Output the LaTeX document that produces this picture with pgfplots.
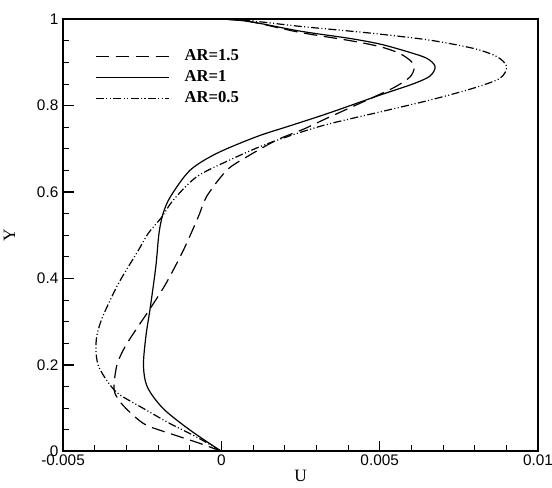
\documentclass[border=0pt]{standalone}
\usepackage{pgfplots}
\pgfplotsset{compat=1.18}
\usepackage{fontspec}
\setmainfont{Liberation Serif}
\newfontfamily\arial{Liberation Sans}

\begin{document}
\begin{tikzpicture}
\begin{axis}[
  scale only axis, width=356pt, height=324pt,
  xmin=-0.005, xmax=0.01, ymin=0, ymax=1,
  scaled x ticks=false, scaled y ticks=false,
  xtick={-0.005,0,0.005,0.01}, xticklabels={-0.005,0,0.005,0.01},
  ytick={0,0.2,0.4,0.6,0.8,1}, yticklabels={0,0.2,0.4,0.6,0.8,1},
  minor x tick num=4, minor y tick num=3,
  tick pos=left, tick align=inside,
  major tick length=8pt, minor tick length=4.5pt,
  every major tick/.style={line width=1.2pt, black},
  every minor tick/.style={line width=0.5pt, black},
  axis line style={line width=1.5pt},
  /pgf/number format/assume math mode=true,
  tick label style={font=\arial\fontsize{11.5}{13}\selectfont},
  xticklabel style={yshift=1pt},
  xlabel={U}, ylabel={Y},
  label style={font=\fontsize{13}{15}\selectfont},
  xlabel style={at={(axis description cs:0.5,-0.058)}, anchor=center, inner sep=0pt},
  ylabel style={at={(axis description cs:-0.113,0.5)}, anchor=center, inner sep=0pt},
  legend image code/.code={\draw[#1] (0pt,0pt) -- (55pt,0pt); \path (66pt,0pt);},
  legend style={draw=none, fill=none, at={(axis description cs:0.0674,0.93)}, anchor=north west,
    font=\bfseries\fontsize{12.5}{14}\selectfont, row sep=4.6pt, inner sep=0pt,
    nodes={inner sep=0pt, text height=8.5pt, text depth=2.5pt, anchor=west}},
  legend cell align=left,
]
\addplot[black, line width=0.9pt, dash pattern=on 10pt off 5pt, smooth, tension=0.5] coordinates {
(0,0) (-0.00067,0.018) (-0.00162,0.041) (-0.00236,0.060) (-0.00278,0.083) (-0.00315,0.110)
(-0.00336,0.134) (-0.00339,0.155) (-0.0033,0.199) (-0.0031,0.234) (-0.00280,0.270)
(-0.00225,0.330) (-0.00175,0.388) (-0.0012,0.465) (-0.00073,0.542) (-0.00046,0.590)
(0.00017,0.650) (0.0008,0.681) (0.00175,0.720) (0.00259,0.745) (0.00338,0.772)
(0.00501,0.826) (0.00554,0.845) (0.00596,0.866) (0.00609,0.886) (0.00601,0.901)
(0.00564,0.920) (0.00501,0.936) (0.00406,0.950) (0.00248,0.969) (0.0009,0.994) (0,1)
};
\addlegendentry{AR=1.5}
\addplot[black, line width=0.9pt, smooth, tension=0.5] coordinates {
(0,0) (-0.00099,0.049) (-0.00184,0.099) (-0.00234,0.149) (-0.00246,0.199) (-0.00238,0.268)
(-0.00225,0.330) (-0.00207,0.427) (-0.00197,0.504) (-0.00184,0.550) (-0.00160,0.590)
(-0.00099,0.650) (-0.00015,0.689) (0.00112,0.728) (0.00217,0.753) (0.00338,0.782)
(0.00501,0.824) (0.00606,0.850) (0.00659,0.868) (0.00675,0.890) (0.00649,0.909)
(0.00585,0.925) (0.00501,0.942) (0.00406,0.955) (0.00248,0.972) (0.0009,0.994) (0,1)
};
\addlegendentry{AR=1}
\addplot[black, line width=0.9pt, dash pattern=on 6pt off 1.8pt on 0.8pt off 1.8pt on 0.8pt off 1.8pt, smooth, tension=0.5] coordinates {
(0,0) (-0.00078,0.033) (-0.00162,0.064) (-0.00246,0.099) (-0.00325,0.133) (-0.00362,0.164)
(-0.00389,0.199) (-0.00396,0.234) (-0.00393,0.268) (-0.00375,0.311) (-0.00325,0.388)
(-0.00262,0.465) (-0.00231,0.504) (-0.00188,0.542) (-0.00152,0.581) (-0.00078,0.635)
(0.00027,0.674) (0.00133,0.708) (0.00238,0.735) (0.00338,0.757) (0.00501,0.785)
(0.00659,0.8125) (0.00796,0.840) (0.0088,0.863) (0.00901,0.890) (0.0087,0.913)
(0.00796,0.932) (0.00659,0.951) (0.00501,0.965) (0.00406,0.972) (0.00248,0.983) (0.0009,0.996) (0,1)
};
\addlegendentry{AR=0.5}
\end{axis}
\pgfresetboundingbox
\useasboundingbox ([shift={(-47.25pt,-27pt)}]current axis.south west) rectangle ([shift={(10.5pt,14.25pt)}]current axis.north east);
\end{tikzpicture}
\end{document}
